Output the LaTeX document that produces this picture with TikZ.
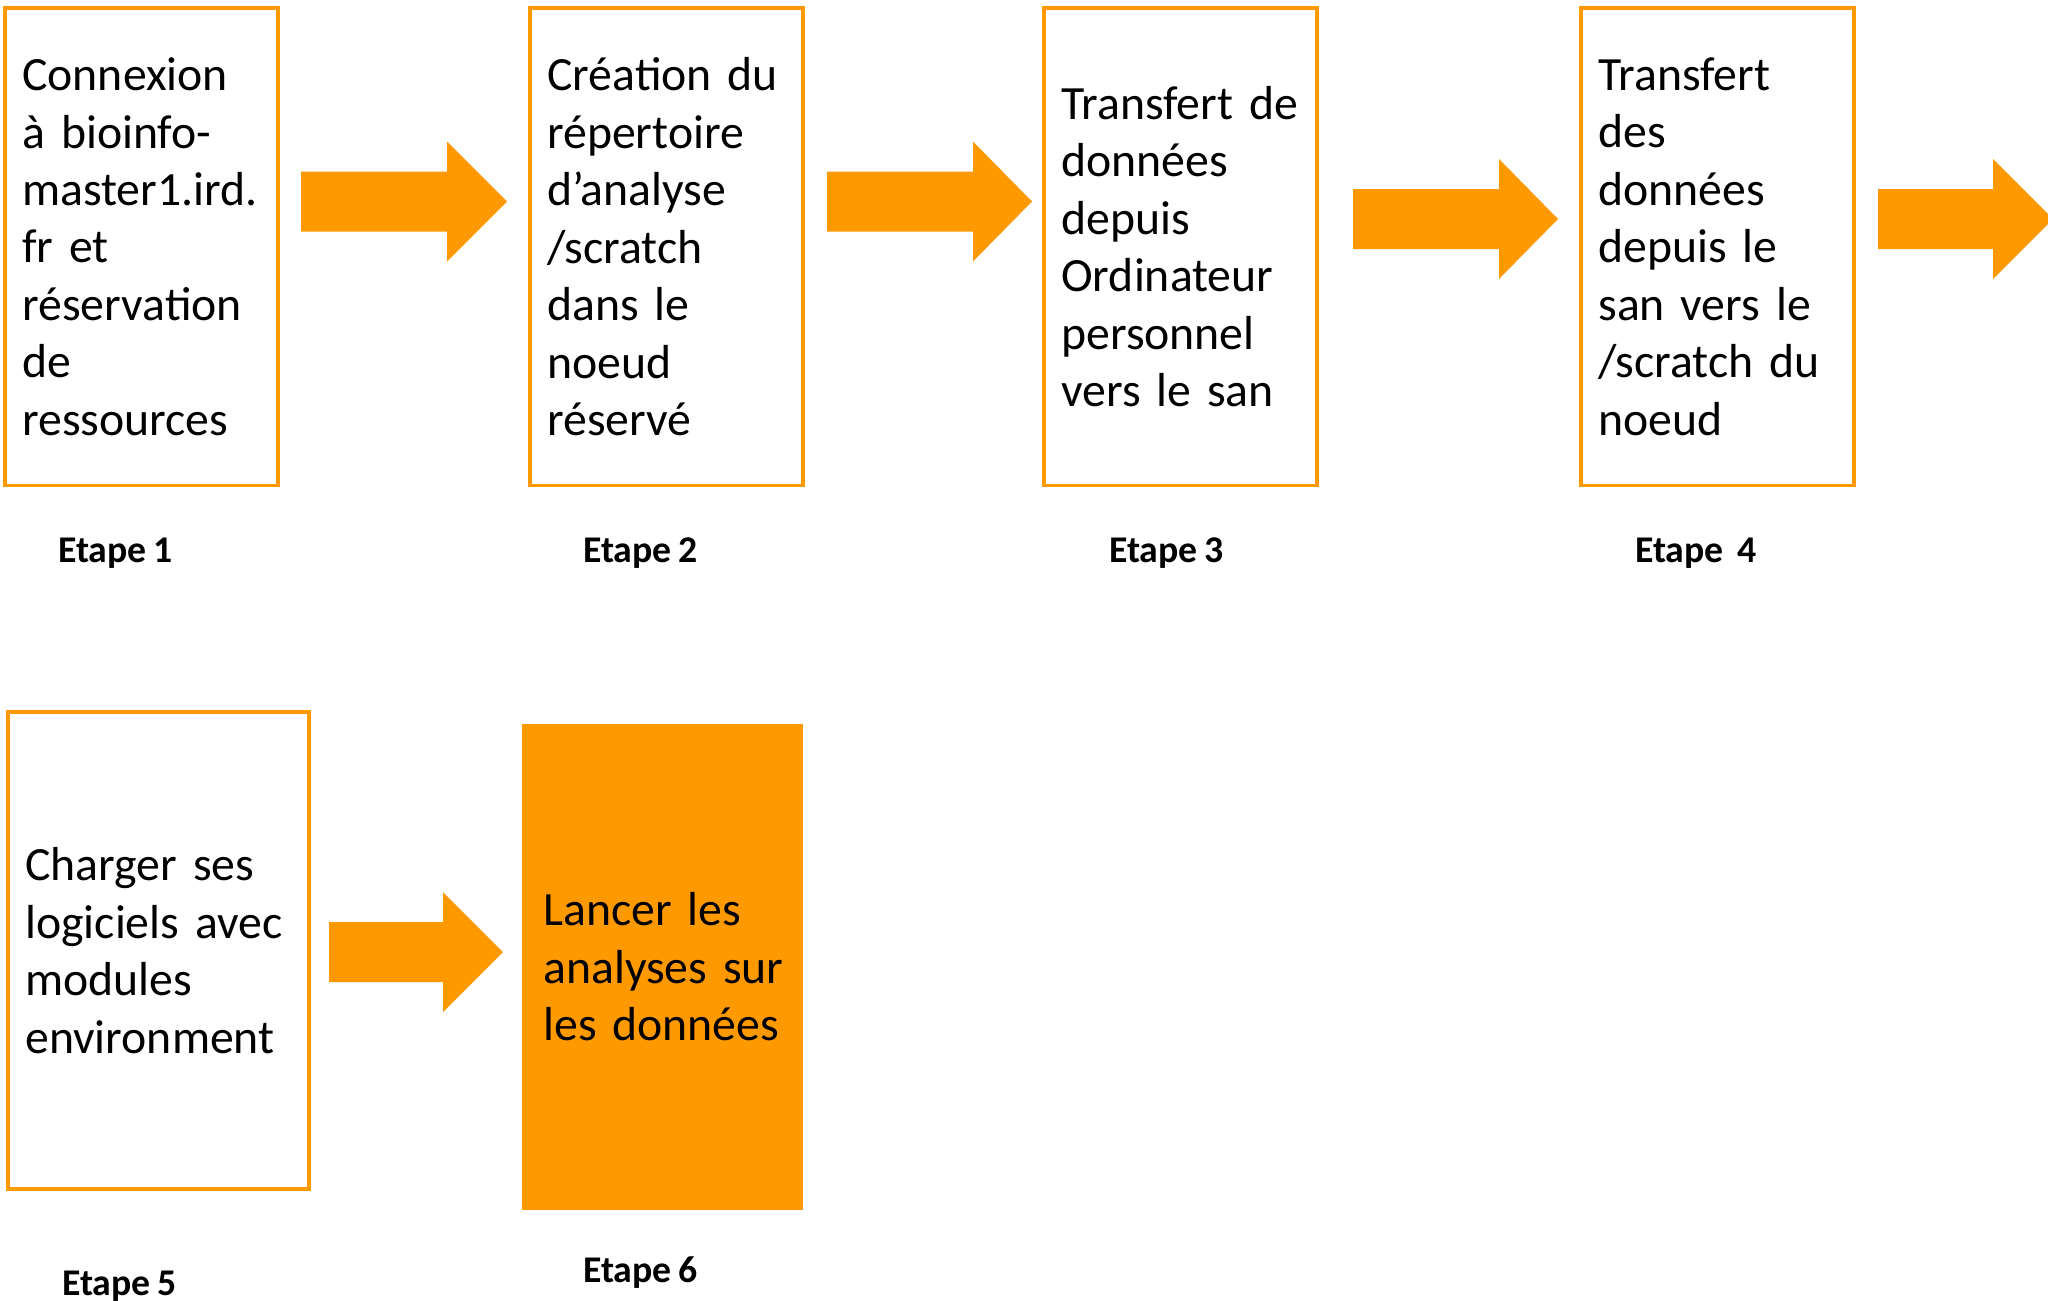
\documentclass[tikz,border=0pt]{standalone}
\usepackage{fontspec}
\setmainfont[WordSpace=0.8]{Carlito}
\definecolor{orangeA}{RGB}{255,153,0}
\tikzset{
  stepbox/.style={draw=orangeA, line width=2.6pt, rectangle, outer sep=0pt,
    anchor=north west, inner xsep=13pt, inner ysep=0pt, align=left,
    font=\fontsize{35.8pt}{43.1pt}\selectfont, text=black,
    execute at begin node={\hyphenpenalty=10000\exhyphenpenalty=10000}},
  stepfilled/.style={stepbox, draw=none, fill=orangeA, inner xsep=16pt},
  steplabel/.style={anchor=base west, inner sep=0pt, font=\bfseries\fontsize{28.3pt}{34pt}\selectfont},
  arrowfill/.style={fill=orangeA}
}
\newcommand\blockarrow[4]{%
  \fill[arrowfill] (#1,#4-30) -- (#2,#4-30) -- (#2,#4-60) -- (#3,#4) -- (#2,#4+60) -- (#2,#4+30) -- (#1,#4+30) -- cycle;}
\begin{document}
\begin{tikzpicture}[x=0.75pt, y=-0.75pt]
\useasboundingbox (0,0) rectangle (2048,1300);
% top row boxes
\node[stepbox, minimum width=204.75pt, minimum height=358.1pt, text width=178.75pt] (b1) at (5,8)
  {Connexion\\à~bioinfo-\\master1.ird.\\fr~et\\réservation\\de\\ressources};
\node[stepbox, minimum width=204.75pt, minimum height=358.1pt, text width=178.75pt] (b2) at (530,8)
  {Création~du\\répertoire\\d’analyse\\/scratch\\dans~le\\noeud\\réservé};
\node[stepbox, minimum width=204.75pt, minimum height=358.1pt, text width=178.75pt] (b3) at (1044,8)
  {Transfert~de\\données\\depuis\\Ordinateur\\personnel\\vers~le~san};
\node[stepbox, minimum width=204.75pt, minimum height=358.1pt, text width=178.75pt] (b4) at (1581,8)
  {Transfert\\des\\données\\depuis~le\\san~vers~le\\/scratch~du\\noeud};
% bottom row boxes
\node[stepbox, minimum width=225.75pt, minimum height=357.75pt, text width=199.75pt] (b5) at (8,712)
  {Charger~ses\\logiciels~avec\\modules\\environment};
\node[stepfilled, minimum width=210.75pt, minimum height=364.5pt, text width=178.75pt] (b6) at (522,724)
  {Lancer~les\\analyses~sur\\les~données};
% arrows
\blockarrow{301}{447}{507}{201.5}
\blockarrow{827}{973}{1032}{201.5}
\blockarrow{1353}{1499}{1558}{219}
\blockarrow{1878}{1993}{2053}{219}
\blockarrow{329}{443}{503}{952}
% labels
\node[steplabel] (e1) at (58,562) {Etape 1};
\node[steplabel] (e2) at (583,562) {Etape 2};
\node[steplabel] (e3) at (1109,562) {Etape 3};
\node[steplabel] (e4) at (1635,562) {Etape\ \ 4};
\node[steplabel] (e5) at (62,1295) {Etape 5};
\node[steplabel] (e6) at (583,1282) {Etape 6};
\end{tikzpicture}
\end{document}
